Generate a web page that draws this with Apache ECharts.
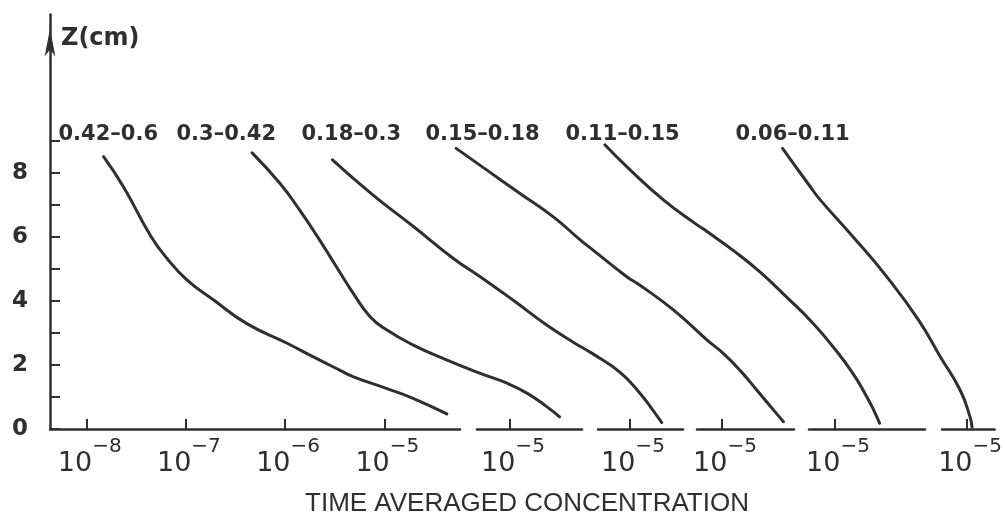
<!DOCTYPE html>
<html><head><meta charset="utf-8">
<script src="https://cdn.jsdelivr.net/npm/echarts@6/dist/echarts.min.js"></script>
<style>html,body{margin:0;padding:0;background:#fff}#c{width:1005px;height:515px}</style>
</head><body><div id="c"></div>
<script>
// ---------- data (x = log10 of time averaged concentration, z in cm) ----------
const curveLabels = ['0.42\u20130.6', '0.3\u20130.42', '0.18\u20130.3', '0.15\u20130.18', '0.11\u20130.15', '0.06\u20130.11'];

const logC1 = [-7.83, -7.63, -7.35, -7.19, -6.99, -6.72, -6.39, -5.98, -5.72, -5.45, -5.31, -4.98, -4.71, -4.37];
const z1    = [ 8.51,  7.57,  6.01,  5.33,  4.66,  4.03,  3.30,  2.68,  2.26,  1.84,  1.63,  1.27,  0.96,  0.47];

const logC2 = [-7.60, -7.32, -7.12, -6.92, -6.75, -6.58, -6.41, -6.24, -5.98, -5.64, -5.30, -5.03, -4.83, -4.63, -4.50];
const z2    = [ 8.63,  7.68,  6.84,  5.91,  5.07,  4.24,  3.51,  3.09,  2.63,  2.16,  1.74,  1.43,  1.12,  0.70,  0.38];

const logC3 = [-8.00, -7.59, -7.18, -6.78, -6.51, -6.18, -5.84, -5.56, -5.37, -5.10, -4.90, -4.77, -4.68];
const z3    = [ 8.41,  7.31,  6.32,  5.33,  4.76,  4.03,  3.25,  2.69,  2.34,  1.77,  1.12,  0.59,  0.20];

const logC4 = [-7.68, -7.37, -7.04, -6.70, -6.43, -6.30, -5.96, -5.83, -5.49, -5.15, -4.99, -4.82, -4.65, -4.48, -4.38];
const z4    = [ 8.77,  8.09,  7.37,  6.63,  5.91,  5.59,  4.76,  4.50,  3.72,  2.78,  2.37,  1.84,  1.22,  0.59,  0.23];

const logC5 = [-7.32, -7.10, -6.73, -6.39, -6.29, -6.03, -5.76, -5.49, -5.22, -5.02, -4.82, -4.68, -4.61, -4.55];
const z5    = [ 8.88,  8.20,  7.16,  6.38,  6.17,  5.59,  4.92,  4.13,  3.30,  2.57,  1.74,  1.01,  0.59,  0.18];

const logC6 = [-6.91, -6.63, -6.53, -6.20, -5.86, -5.54, -5.32, -5.12, -5.02, -5.00];
const z6    = [ 8.77,  7.57,  7.16,  6.01,  4.76,  3.41,  2.26,  1.22,  0.38,  0.06];

const seg1TickExps = [-8, -7, -6, -5];
const segTickExps  = [-5];
const zTicks  = [0, 1, 2, 3, 4, 5, 6, 7, 8, 9];
const zLabels = [0, 2, 4, 6, 8];
const yTitle = 'Z(cm)';
const xTitle = 'TIME AVERAGED CONCENTRATION';

// ---------- layout ----------
const INK = '#2f2f2f';
const W = 1005;
const y0 = 429, unitPx = 32, zMax = 12.95, decadePx = 99.2;
// [segment start px, segment end px, px of the 10^-5 tick]
const segLayout = [[50, 460, 384.3], [477, 582, 510], [598, 683, 630], [697, 794, 722], [809, 925, 835], [942, 1005, 972]];
const labelLeft = [58.5, 176.5, 301.5, 425.5, 565.5, 735.5];

const curves = [[logC1, z1], [logC2, z2], [logC3, z3], [logC4, z4], [logC5, z5], [logC6, z6]];
const gridTop = y0 - zMax * unitPx;
const gridH = zMax * unitPx;
const expAt = (px, ref) => -5 + (px - ref) / decadePx;

const grids = [], xAxes = [], yAxes = [], series = [];
// axis grids: one broken x-axis segment each
segLayout.forEach((s, k) => {
  grids.push({ left: s[0], top: gridTop, width: s[1] - s[0], height: gridH });
  const ticks = k === 0 ? seg1TickExps : segTickExps;
  xAxes.push({
    type: 'value', gridIndex: k, min: expAt(s[0], s[2]), max: expAt(s[1], s[2]),
    axisLine: { show: true, onZero: false, lineStyle: { color: INK, width: 2.5 } },
    axisTick: { show: true, inside: true, length: 10, customValues: ticks, lineStyle: { color: INK, width: 2 } },
    axisLabel: {
      customValues: ticks, margin: 8, padding: [0, 0, 0, 6],
      formatter: v => '{b|10}{s|\u2212' + Math.round(-v) + '}',
      rich: {
        b: { fontFamily: 'DejaVu Sans', fontSize: 27, lineHeight: 40, verticalAlign: 'bottom', color: INK },
        s: { fontFamily: 'DejaVu Sans', fontSize: 20, lineHeight: 20, verticalAlign: 'top', color: INK }
      }
    },
    splitLine: { show: false }
  });
  yAxes.push(k === 0 ? {
    type: 'value', gridIndex: 0, min: 0, max: zMax,
    axisLine: { show: true, onZero: false, symbol: ['none', 'arrow'], symbolSize: [8, 28], symbolOffset: [0, -14],
      lineStyle: { color: INK, width: 2.5 } },
    axisTick: { show: true, inside: true, length: 10, customValues: zTicks, lineStyle: { color: INK, width: 2 } },
    axisLabel: { customValues: zLabels, margin: 22, fontFamily: 'DejaVu Sans', fontWeight: 'bold', fontSize: 23, color: INK },
    splitLine: { show: false }
  } : {
    type: 'value', gridIndex: k, min: 0, max: zMax, show: false, splitLine: { show: false }
  });
});
// curve grids: full width, same scale as the curve's own axis segment (hidden axes)
segLayout.forEach((s, k) => {
  const g = grids.length;
  grids.push({ left: 0, top: gridTop, width: W, height: gridH });
  xAxes.push({ type: 'value', gridIndex: g, min: expAt(0, s[2]), max: expAt(W, s[2]), show: false, splitLine: { show: false } });
  yAxes.push({ type: 'value', gridIndex: g, min: 0, max: zMax, show: false, splitLine: { show: false } });
  const c = curves[k];
  series.push({
    type: 'line', name: curveLabels[k], xAxisIndex: g, yAxisIndex: g,
    data: c[0].map((x, i) => [x, c[1][i]]),
    smooth: 0.5, showSymbol: false, symbol: 'none', clip: false,
    lineStyle: { color: INK, width: 3, cap: 'round', join: 'round' }, silent: true
  });
});

const graphics = curveLabels.map((t, k) => ({
  type: 'text', x: labelLeft[k], y: 135,
  style: { text: t, fill: INK, font: 'bold 21px "DejaVu Sans"', align: 'left', verticalAlign: 'middle' }
}));
graphics.push({ type: 'text', x: 61, y: 38.5,
  style: { text: yTitle, fill: INK, font: 'bold 24px "DejaVu Sans"', align: 'left', verticalAlign: 'middle' } });
graphics.push({ type: 'text', x: 527, y: 503.5,
  style: { text: xTitle, fill: INK, font: '26px "Liberation Sans"', align: 'center', verticalAlign: 'middle' } });

const chart = echarts.init(document.getElementById('c'), null, { renderer: 'canvas' });
chart.setOption({
  backgroundColor: '#fff', animation: false,
  grid: grids, xAxis: xAxes, yAxis: yAxes, series: series, graphic: graphics
});
</script></body></html>
